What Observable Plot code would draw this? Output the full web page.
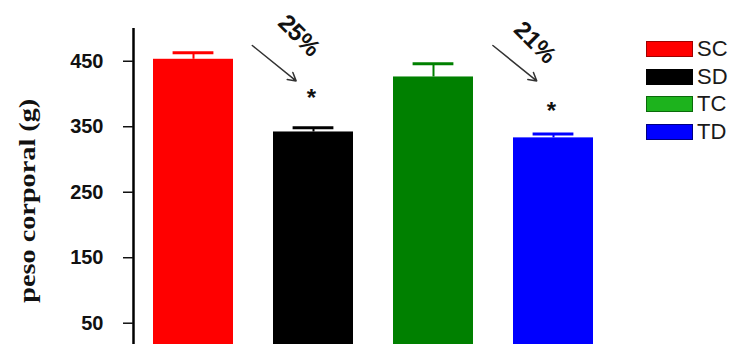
<!DOCTYPE html>
<html>
<head>
<meta charset="utf-8">
<script src="https://cdn.jsdelivr.net/npm/d3@7"></script>
<script src="https://cdn.jsdelivr.net/npm/@observablehq/plot@0.6"></script>
<style>
  html, body { margin: 0; padding: 0; background: #fff; overflow: hidden; }
  #wrap { position: relative; width: 737px; height: 344px; }
  #legend { position: absolute; left: 646px; top: 35px; font-family: "Liberation Sans", Arial, sans-serif; font-size: 22px; color: #1a1a1a; }
  .row { display: flex; align-items: center; height: 27.7px; }
  .sw { width: 45px; height: 14px; border: 1px solid; margin-right: 4px; }
</style>
</head>
<body>
<div id="wrap"></div>
<script>
// ---- data ----
const groups = ["SC", "SD", "TC", "TD"];
const means = [453, 342, 426, 333];
const errors = [10, 6.5, 20, 6];
const barColors = ["#ff0000", "#000000", "#008000", "#0000ff"];
const legendColors = ["#ff0000", "#000000", "#1db31d", "#0000ff"];
const legendBorders = ["#a00000", "#000000", "#0a6a0a", "#000080"];
const yTicks = [50, 150, 250, 350, 450];
const yLabel = "peso corporal (g)";
// annotations (x in category-index units relative to the group, y in grams)
const sigGroups = ["SD", "TD"];
const starY = [401, 381];
const pctLabels = ["25%", "21%"];
const pctOffsetX = [-0.12, -0.154];
const pctY = [489, 478.5];
const arrowStartOffset = [-0.51, -0.505];
const arrowEndOffset = [-0.145, -0.14];
const arrowY1 = [474, 474];
const arrowY2 = [420, 420];
// y-axis title anchor (category-index units, grams)
const yLabelX = [-1.38];
const yLabelY = [237];

const xDomain = [-0.5, 3.5];
const yDomain = [17.5, 500];

const bars = groups.map((g, i) => ({g, i, mean: means[i], err: errors[i]}));
const sig = sigGroups.map((g, k) => ({
  i: groups.indexOf(g), star: starY[k], pct: pctLabels[k], px: groups.indexOf(g) + pctOffsetX[k], py: pctY[k],
  ax1: groups.indexOf(g) + arrowStartOffset[k], ax2: groups.indexOf(g) + arrowEndOffset[k], ay1: arrowY1[k], ay2: arrowY2[k]
}));
const titleData = [{x: yLabelX[0], y: yLabelY[0], t: yLabel}];

const chart = Plot.plot({
  width: 737,
  height: 344,
  marginLeft: 133,
  marginRight: 124,
  marginTop: 28,
  marginBottom: 0,
  style: {fontFamily: "'Liberation Sans', Arial, sans-serif", background: "#fff", overflow: "visible"},
  x: {type: "linear", domain: xDomain, axis: null},
  y: {domain: yDomain, clamp: true, axis: null},
  color: {domain: groups, range: barColors},
  marks: [
    Plot.rectY(bars, {x1: d => d.i - 1/3, x2: d => d.i + 1/3, y1: 0, y2: "mean", fill: "g"}),
    Plot.ruleX(bars, {x: "i", y1: "mean", y2: d => d.mean + d.err, stroke: "g", strokeWidth: 2}),
    Plot.ruleY(bars, {y: d => d.mean + d.err, x1: d => d.i - 0.17, x2: d => d.i + 0.17, stroke: "g", strokeWidth: 3}),
    Plot.ruleX([xDomain[0]], {stroke: "#000", strokeWidth: 2.5}),
    Plot.axisY({ticks: yTicks, tickSize: 10, tickPadding: 20, tickFormat: d => String(d), fontSize: 20, fontWeight: "bold", label: null, strokeWidth: 1.5, color: "#111"}),
    Plot.text(titleData, {x: "x", y: "y", text: "t", rotate: -90, fontSize: 23, fontWeight: "bold", fontFamily: "'Liberation Serif', 'Times New Roman', serif", fill: "#111"}),
    Plot.text(sig, {x: "i", y: "star", text: () => "*", fontSize: 24, fontWeight: "bold", fill: "#111", dy: 5, dx: -2}),
    Plot.arrow(sig, {x1: "ax1", y1: "ay1", x2: "ax2", y2: "ay2", stroke: "#333", strokeWidth: 1.5, headLength: 9}),
    Plot.text(sig, {x: "px", y: "py", text: "pct", rotate: 45, fontSize: 24, fontWeight: "bold", fill: "#111"})
  ]
});

// stretch the y title to the length it has in the reference
d3.select(chart).selectAll("text").filter(function() { return this.textContent === yLabel; })
  .attr("textLength", 204).attr("lengthAdjust", "spacingAndGlyphs");

const wrap = document.getElementById("wrap");
wrap.appendChild(chart);
const legend = document.createElement("div");
legend.id = "legend";
groups.forEach((g, i) => {
  const row = document.createElement("div");
  row.className = "row";
  const sw = document.createElement("div");
  sw.className = "sw";
  sw.style.background = legendColors[i];
  sw.style.borderColor = legendBorders[i];
  const t = document.createElement("span");
  t.textContent = g;
  row.appendChild(sw);
  row.appendChild(t);
  legend.appendChild(row);
});
wrap.appendChild(legend);
</script>
</body>
</html>
